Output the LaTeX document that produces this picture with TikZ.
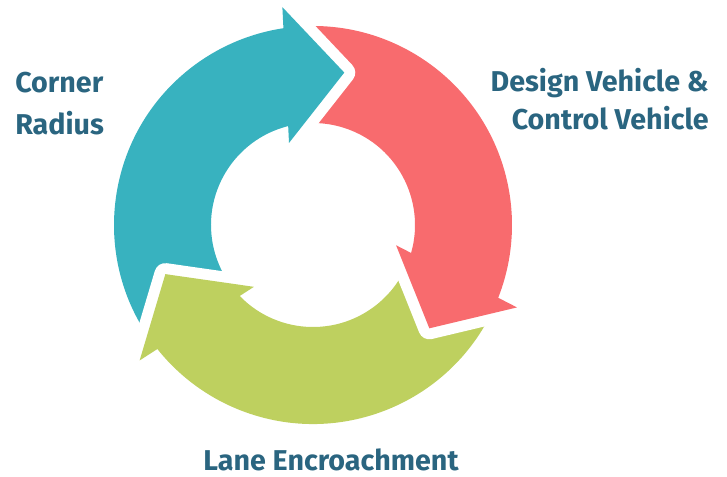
\documentclass[tikz,border=0pt]{standalone}
\usepackage{fontspec}
\setmainfont{Fira Sans}
\definecolor{cycleteal}{RGB}{56,178,191}
\definecolor{cyclered}{RGB}{248,107,110}
\definecolor{cyclegreen}{RGB}{190,208,95}
\definecolor{textblue}{RGB}{42,101,128}

\begin{document}
\begin{tikzpicture}[
  x=0.75pt,y=0.75pt,
  stagetext/.style={font=\bfseries\fontsize{21.5}{31.5}\selectfont,
    text=textblue,inner sep=0pt},
  halo/.style={white,line width=16.5pt,line join=round}
]
\useasboundingbox (-313,-251) rectangle (414,225);

% ring segments first, heads on top
\foreach \ang/\col in {78.4/cycleteal,-41.6/cyclered,-161.6/cyclegreen}{
  \fill[\col] (\ang+140:199) arc[start angle=\ang+140,end angle=\ang+20,radius=199]
    -- (\ang+20:102) arc[start angle=\ang+20,end angle=\ang+140,radius=102] -- cycle;
}
\foreach \ang/\col in {78.4/cycleteal,-41.6/cyclered,-161.6/cyclegreen}{
  \draw[halo] (\ang+19.6:220) -- (\ang:155.6) -- (\ang+27.9:85.5);
  \fill[\col] (\ang+19.6:220) -- (\ang:155.6) -- (\ang+27.9:85.5) -- cycle;
}

\node[stagetext,anchor=north west,align=left] (radius) at (-298,153) {Corner\\ Radius};
\node[stagetext,anchor=north east,align=right,
  font=\bfseries\fontsize{21.5}{28.5}\selectfont] (vehicle) at (396,157) {Design Vehicle \&\\ Control Vehicle};
\node[stagetext,anchor=base] (lane) at (18,-245) {Lane Encroachment};
\end{tikzpicture}
\end{document}
